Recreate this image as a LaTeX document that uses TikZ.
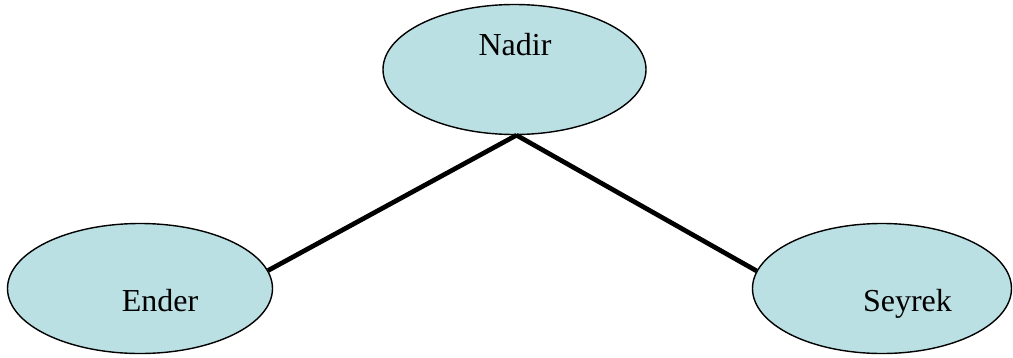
\documentclass[tikz,border=0pt]{standalone}
\usepackage{fontspec}
\setmainfont{Liberation Serif}
\usetikzlibrary{shapes.geometric}
\definecolor{bubble}{RGB}{187,224,227}
\begin{document}
\begin{tikzpicture}[x=1pt,y=-1pt,
  bubble/.style={ellipse,draw=black,line width=1.4pt,fill=bubble,inner sep=0pt,minimum height=130pt},
  word/.style={anchor=base,inner sep=0pt,font=\fontsize{32pt}{36pt}\selectfont},
  link/.style={line width=4.7pt,black}]
\useasboundingbox (0,0) rectangle (1013,357);
\node[bubble,minimum width=263pt] (nadir) at (514.5,69.5) {};
\node[bubble,minimum width=265pt] (ender) at (140,288.5) {};
\node[bubble,minimum width=259pt] (seyrek) at (882,288.5) {};
\node[word] (tnadir) at (515,55) {Nadir};
\node[word] (tender) at (160,311) {Ender};
\node[word] (tseyrek) at (907.5,311) {Seyrek};
\draw[link] ([xshift=2pt]nadir.south) -- (ender.8);
\draw[link] ([xshift=2pt]nadir.south) -- (seyrek.172);
\end{tikzpicture}
\end{document}
